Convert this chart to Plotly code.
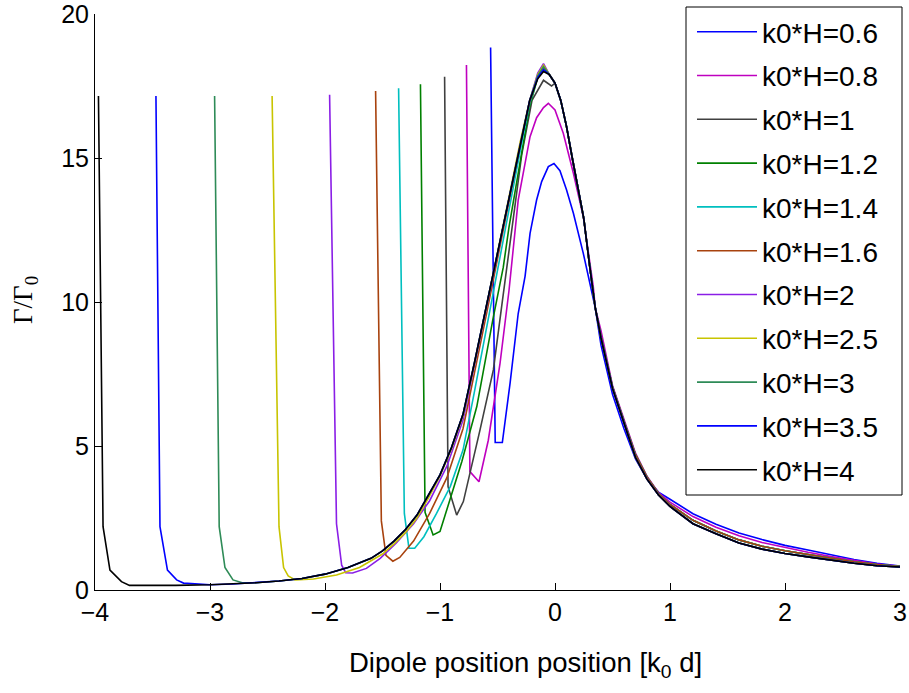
import plotly.graph_objects as go

# ---------------- data ----------------
labels = ["k0*H=0.6", "k0*H=0.8", "k0*H=1", "k0*H=1.2", "k0*H=1.4", "k0*H=1.6",
          "k0*H=2", "k0*H=2.5", "k0*H=3", "k0*H=3.5", "k0*H=4"]
colors = ["#0000FF", "#BF00BF", "#404040", "#008000", "#00BFBF", "#A8420E",
          "#8A1EE6", "#C8C400", "#2E8B57", "#0000FF", "#000000"]

# common envelope shared by the curves once they leave the substrate edge
env_x = [-3.7, -3.5, -3.3, -3.0, -2.8, -2.6, -2.4, -2.2, -2.0, -1.8, -1.6, -1.5, -1.4,
         -1.3, -1.2, -1.1, -1.0, -0.9, -0.8, -0.7, -0.6, -0.5, -0.4, -0.3, -0.22,
         -0.15, -0.1, -0.05, 0.0, 0.05, 0.1, 0.15, 0.2, 0.25, 0.3, 0.35]
env_y = [0.16, 0.15, 0.16, 0.18, 0.21, 0.25, 0.31, 0.40, 0.55, 0.78, 1.10, 1.36, 1.70,
         2.10, 2.60, 3.30, 4.00, 4.95, 6.10, 7.90, 9.80, 11.7, 13.7, 15.6, 17.0,
         17.75, 18.0, 17.9, 17.6, 17.0, 16.1, 15.0, 13.9, 12.9, 11.3, 9.8]

# right-hand tails
tail_x = [0.4, 0.5, 0.6, 0.7, 0.8, 0.9, 1.0, 1.2, 1.4, 1.6, 1.8, 2.0, 2.2, 2.4, 2.6, 2.8, 3.0]
tail_lo = [8.75, 7.0, 5.8, 4.6, 3.85, 3.3, 2.9, 2.3, 1.95, 1.63, 1.42, 1.27, 1.15, 1.03, 0.93, 0.84, 0.80]
tail_mid = [8.8, 7.05, 5.85, 4.7, 3.92, 3.35, 2.97, 2.42, 2.05, 1.74, 1.52, 1.36, 1.23, 1.10, 0.98, 0.88, 0.81]
tail_08 = [9.0, 7.1, 5.9, 4.75, 3.95, 3.38, 3.05, 2.55, 2.18, 1.88, 1.65, 1.47, 1.31, 1.16, 1.02, 0.90, 0.82]
tail_06 = [8.5, 6.8, 5.6, 4.55, 3.85, 3.4, 3.15, 2.65, 2.28, 1.98, 1.75, 1.55, 1.39, 1.22, 1.06, 0.93, 0.83]

# individual starting segments (near x = -k0*H)
head_06_x = [-0.56, -0.52, -0.458, -0.39, -0.32, -0.26, -0.217, -0.16, -0.116, -0.058,
             -0.009, 0.043, 0.10, 0.16, 0.246, 0.333]
head_06_y = [18.84, 5.12, 5.12, 7.2, 9.6, 10.9, 12.38, 13.54, 14.18, 14.7,
             14.81, 14.56, 13.9, 13.08, 11.69, 10.07]
head_08_x = [-0.77, -0.74, -0.661, -0.58, -0.478, -0.40, -0.32, -0.217, -0.16, -0.1,
             -0.058, 0.0, 0.072, 0.16, 0.246, 0.333]
head_08_y = [18.23, 4.11, 3.76, 5.2, 7.87, 10.4, 13.54, 15.74, 16.4, 16.75,
             16.9, 16.67, 15.86, 14.47, 12.96, 10.53]
head_10_x = [-0.96, -0.93, -0.855, -0.797, -0.652, -0.536, -0.464, -0.40, -0.29, -0.2, -0.1, -0.03]
head_10_y = [17.82, 3.59, 2.6, 3.07, 5.56, 7.64, 9.84, 11.8, 15.1, 17.0, 17.7, 17.5]
head_12_x = [-1.17, -1.13, -1.06, -1.0, -0.81, -0.68, -0.54, -0.45, -0.4, -0.3, -0.22, -0.15, -0.1]
head_12_y = [17.56, 2.7, 1.91, 2.03, 4.46, 6.37, 9.4, 11.2, 12.6, 15.0, 16.8, 17.8, 18.12]
head_14_x = [-1.36, -1.31, -1.27, -1.22, -1.14, -1.03, -0.91, -0.80, -0.7, -0.6, -0.5,
             -0.4, -0.3, -0.22, -0.15, -0.1]
head_14_y = [17.42, 2.66, 1.45, 1.45, 1.85, 2.66, 3.6, 4.86, 6.9, 9.0, 11.1,
             13.3, 15.3, 16.9, 17.8, 18.1]
head_16_x = [-1.56, -1.51, -1.47, -1.41, -1.35, -1.23, -1.09, -0.94, -0.8, -0.7, -0.6,
             -0.5, -0.4, -0.3, -0.22, -0.15, -0.1]
head_16_y = [17.33, 2.4, 1.2, 1.0, 1.13, 1.7, 2.66, 3.9, 5.6, 7.5, 9.5,
             11.5, 13.5, 15.5, 16.95, 17.85, 18.15]
head_20_x = [-1.96, -1.90, -1.855, -1.82, -1.76, -1.64, -1.52, -1.38, -1.23, -1.09, -0.94, -0.8,
             -0.7, -0.6, -0.5, -0.4, -0.3, -0.22, -0.15, -0.1]
head_20_y = [17.2, 2.3, 0.86, 0.6, 0.59, 0.75, 1.1, 1.63, 2.3, 3.1, 4.3, 5.9,
             7.8, 9.7, 11.6, 13.6, 15.55, 17.0, 17.95, 18.28]
head_25_x = [-2.46, -2.40, -2.36, -2.32, -2.26, -2.1, -1.9, -1.7, -1.5, -1.4, -1.3, -1.2,
             -1.1, -1.0, -0.9, -0.8, -0.7, -0.6, -0.5, -0.4, -0.3, -0.22, -0.15, -0.1]
head_25_y = [17.15, 2.2, 0.78, 0.49, 0.35, 0.38, 0.52, 0.78, 1.25, 1.6, 2.0, 2.5,
             3.2, 3.95, 4.9, 6.05, 7.85, 9.75, 11.65, 13.65, 15.6, 17.0, 17.9, 18.22]
head_30_x = [-2.96, -2.92, -2.87, -2.80, -2.72, -2.6, -2.4, -2.2, -2.0, -1.8, -1.6, -1.5,
             -1.4, -1.3, -1.2, -1.1, -1.0, -0.9, -0.8, -0.7, -0.6, -0.5, -0.4, -0.3,
             -0.22, -0.15, -0.1]
head_30_y = [17.15, 2.2, 0.78, 0.35, 0.25, 0.25, 0.31, 0.40, 0.55, 0.78, 1.10, 1.36,
             1.70, 2.10, 2.60, 3.30, 4.00, 4.95, 6.10, 7.90, 9.80, 11.7, 13.7, 15.6,
             17.0, 17.85, 18.17]
head_35_x = [-3.47, -3.435, -3.37, -3.29, -3.23, -3.0, -2.8, -2.6, -2.4, -2.2, -2.0, -1.8,
             -1.6, -1.5, -1.4, -1.3, -1.2, -1.1, -1.0, -0.9, -0.8, -0.7, -0.6, -0.5,
             -0.4, -0.3, -0.22, -0.15, -0.1]
head_35_y = [17.15, 2.2, 0.69, 0.35, 0.24, 0.18, 0.21, 0.25, 0.31, 0.40, 0.55, 0.78,
             1.10, 1.36, 1.70, 2.10, 2.60, 3.30, 4.00, 4.95, 6.10, 7.90, 9.80, 11.7,
             13.7, 15.6, 17.0, 17.8, 18.07]
head_40_x = [-3.97, -3.93, -3.87, -3.77]
head_40_y = [17.15, 2.2, 0.69, 0.29]

heads = [(head_06_x, head_06_y, tail_06), (head_08_x, head_08_y, tail_08),
         (head_10_x, head_10_y, tail_mid), (head_12_x, head_12_y, tail_mid),
         (head_14_x, head_14_y, tail_mid), (head_16_x, head_16_y, tail_mid),
         (head_20_x, head_20_y, tail_lo), (head_25_x, head_25_y, tail_lo),
         (head_30_x, head_30_y, tail_lo), (head_35_x, head_35_y, tail_lo),
         (head_40_x, head_40_y, tail_lo)]

fig = go.Figure()
for name, col, (hx, hy, ty) in zip(labels, colors, heads):
    xs = list(hx) + [x for x in env_x if x > hx[-1]] + tail_x
    ys = list(hy) + [y for x, y in zip(env_x, env_y) if x > hx[-1]] + ty
    fig.add_trace(go.Scatter(x=xs, y=ys, mode="lines", name=name, legendgroup=name,
                             line=dict(color=col, width=1.6)))

PW = 909 - 95 - 7   # paper width in px
PH = 693 - 7 - 103  # paper height in px

fig.update_layout(
    width=909, height=693,
    margin=dict(l=95, r=7, t=7, b=103),
    paper_bgcolor="white", plot_bgcolor="white",
    font=dict(family="Liberation Sans, Arial, sans-serif", color="black"),
    xaxis=dict(range=[-4, 3], tickvals=[-4, -3, -2, -1, 0, 1, 2, 3], domain=[0, 805 / PW],
               ticks="inside", ticklen=7, tickcolor="black", showline=True,
               linecolor="black", linewidth=1, showgrid=False, zeroline=False,
               tickfont=dict(size=25), automargin=False, ticklabeloverflow="allow"),
    yaxis=dict(range=[0, 20], tickvals=[0, 5, 10, 15, 20], domain=[0, 576 / PH],
               ticks="inside", ticklen=7, tickcolor="black", showline=True,
               linecolor="black", linewidth=1, showgrid=False, zeroline=False,
               tickfont=dict(size=25), automargin=False, ticklabeloverflow="allow"),
    legend=dict(x=(692 - 95) / PW, y=1, xanchor="left", yanchor="top",
                borderwidth=0, bgcolor="rgba(255,255,255,0)", maxheight=650,
                font=dict(size=28), tracegroupgap=4.4, itemwidth=60),
    showlegend=True,
    shapes=[dict(type="rect", xref="paper", yref="paper", layer="below",
                 x0=(686 - 95) / PW, x1=1.0, y0=(590 - 495) / PH, y1=1.0,
                 line=dict(color="black", width=1), fillcolor="white")],
    annotations=[
        dict(text="Dipole position position [k<sub>0</sub> d]", xref="paper", yref="paper",
             x=(525 - 95) / PW, y=-(664 - 590) / PH, xanchor="center", yanchor="middle",
             showarrow=False, font=dict(size=27.5)),
        dict(text="Γ/Γ<sub>0</sub>", xref="paper", yref="paper", textangle=-90,
             x=-(95 - 25) / PW, y=(590 - 300) / PH, xanchor="center", yanchor="middle",
             showarrow=False, font=dict(size=27, family="Liberation Serif, Times New Roman, serif")),
    ],
)

fig.write_html("out.html")
